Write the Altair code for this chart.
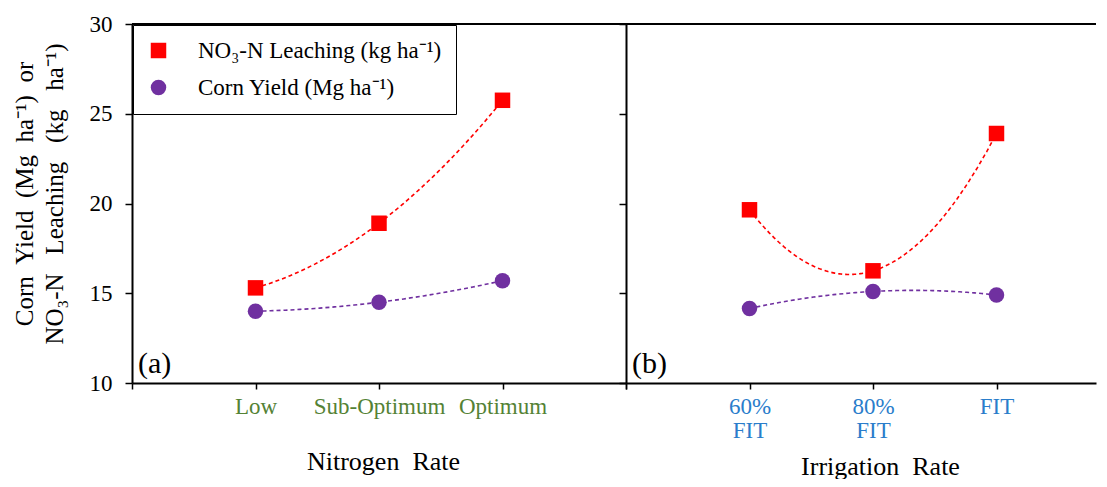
import altair as alt
import pandas as pd

FONT = "Liberation Serif"
GAP1 = "\u00a0 "          # wider word gaps as in the reference titles
GAP2 = " \u2002"

# ---- data ----
x_pos = [1, 2, 3]
nitrogen_labels = ["Low", "Sub-Optimum", "Optimum"]
irrigation_labels = [["60%", "FIT"], ["80%", "FIT"], ["FIT"]]
leach_nitrogen = [15.3, 18.9, 25.75]
yield_nitrogen = [14.0, 14.5, 15.7]
leach_irrigation = [19.65, 16.25, 23.9]
yield_irrigation = [14.15, 15.1, 14.9]
series_names = ["NO₃-N Leaching (kg ha⁻¹)", "Corn Yield (Mg ha⁻¹)"]
series_colors = ["#FF0000", "#7030A0"]
series_shapes = ["square", "circle"]
y_ticks = [10, 15, 20, 25, 30]
panel_tags = ["(a)", "(b)"]
x_titles = ["Nitrogen" + GAP1 + "Rate", "Irrigation" + GAP1 + "Rate"]
y_title = [GAP1.join(["Corn", "Yield", "(Mg", "ha⁻¹)", "or"]),
           GAP2.join(["NO₃-N", "Leaching", "(kg", "ha⁻¹)"])]


def frame(leach, yld):
    rows = []
    for x, v in zip(x_pos, leach):
        rows.append({"x": x, "y": v, "series": series_names[0]})
    for x, v in zip(x_pos, yld):
        rows.append({"x": x, "y": v, "series": series_names[1]})
    return pd.DataFrame(rows)


def label_expr(labels):
    parts = []
    for x, lab in zip(x_pos, labels):
        if isinstance(lab, list):
            s = "[" + ",".join("'" + t + "'" for t in lab) + "]"
        else:
            s = "'" + lab + "'"
        parts.append(f"datum.value == {x} ? {s} : ")
    return "".join(parts) + "''"


UNIT = 123.5
H = 359
W_A = 494
W_B = 470

color_scale = alt.Scale(domain=series_names, range=series_colors)
shape_scale = alt.Scale(domain=series_names, range=series_shapes)

legend = alt.Legend(
    title=None, orient="none", legendX=1, legendY=1, padding=14,
    strokeColor="black", fillColor="white", labelFont=FONT,
    labelFontSize=23, labelColor="black", symbolSize=240, symbolOpacity=1,
    labelOffset=28, rowPadding=13, labelLimit=500, symbolStrokeWidth=0,
)


def panel(df, labels, label_color, width, xmax, tick_vals, xtitle, tag,
          show_y_labels, show_legend, title_pad, label_lh, title_x):
    x_enc = alt.X(
        "x:Q",
        scale=alt.Scale(domain=[0, xmax], nice=False, zero=False),
        axis=alt.Axis(
            values=tick_vals, labelExpr=label_expr(labels), title=xtitle,
            grid=False, tickSize=6, tickColor="black", tickWidth=1.5,
            domainColor="black", domainWidth=2, labelColor=label_color,
            labelFont=FONT, labelFontSize=23, labelPadding=6,
            labelLineHeight=label_lh, labelOverlap=False, labelFlush=False,
            titleFont=FONT, titleFontSize=26, titleFontWeight="normal",
            titleColor="black", titlePadding=title_pad, titleX=title_x,
            titleAlign="center",
        ),
    )
    if show_y_labels:
        y_axis = alt.Axis(
            values=y_ticks, title=y_title, grid=False, tickSize=7,
            tickColor="black", tickWidth=1.5, domainColor="black",
            domainWidth=2, labelFont=FONT, labelFontSize=23,
            labelColor="black", labelPadding=13, titleFont=FONT,
            titleFontSize=25, titleFontWeight="normal", titleColor="black",
            titlePadding=22, titleLineHeight=30, titleY=H / 2 - 10,
            titleAlign="center",
        )
    else:
        y_axis = alt.Axis(
            values=y_ticks, title=None, labels=False, grid=False, tickSize=7,
            tickColor="black", tickWidth=1.5, domainColor="black",
            domainWidth=2,
        )
    y_enc = alt.Y("y:Q", scale=alt.Scale(domain=[y_ticks[0], y_ticks[-1]],
                                         nice=False, zero=False), axis=y_axis)

    base = alt.Chart(df)
    layers = []
    for name, col in zip(series_names, series_colors):
        layers.append(
            base.transform_filter(alt.datum.series == name)
            .transform_regression("x", "y", method="poly", order=2)
            .mark_line(color=col, strokeDash=[4, 3], strokeWidth=1.6)
            .encode(x=x_enc, y=y_enc)
        )
    leg = legend if show_legend else None
    points = base.mark_point(filled=True, size=240, opacity=1).encode(
        x=x_enc, y=y_enc,
        color=alt.Color("series:N", scale=color_scale, legend=leg),
        shape=alt.Shape("series:N", scale=shape_scale, legend=leg),
    )
    top = alt.Chart(pd.DataFrame({"y": [y_ticks[-1]]})).mark_rule(
        color="black", strokeWidth=2).encode(y=alt.Y("y:Q"))
    tag_text = alt.Chart(pd.DataFrame({"t": [tag]})).mark_text(
        font=FONT, fontSize=30, align="left", baseline="alphabetic",
        color="black").encode(text="t:N", x=alt.value(6), y=alt.value(H - 10))
    return alt.layer(*layers, points, top, tag_text).properties(
        width=width, height=H)


panel_a = panel(frame(leach_nitrogen, yield_nitrogen), nitrogen_labels,
                "#548235", W_A, W_A / UNIT, [0, 1, 2, 3, 4], x_titles[0],
                panel_tags[0], True, True, 30, 24, W_A / 2 + 4)
panel_b = panel(frame(leach_irrigation, yield_irrigation), irrigation_labels,
                "#2A7DCB", W_B, W_B / UNIT, [0, 1, 2, 3], x_titles[1],
                panel_tags[1], False, False, 11, 24, 254)

chart = (
    alt.hconcat(panel_a, panel_b, spacing=0, bounds="flush")
    .resolve_scale(color="independent", shape="independent")
    .properties(padding={"left": 4, "top": 5, "right": 0, "bottom": 0})
    .configure_view(stroke=None)
)

chart.save("out.html", embed_options={"renderer": "svg", "actions": False})
